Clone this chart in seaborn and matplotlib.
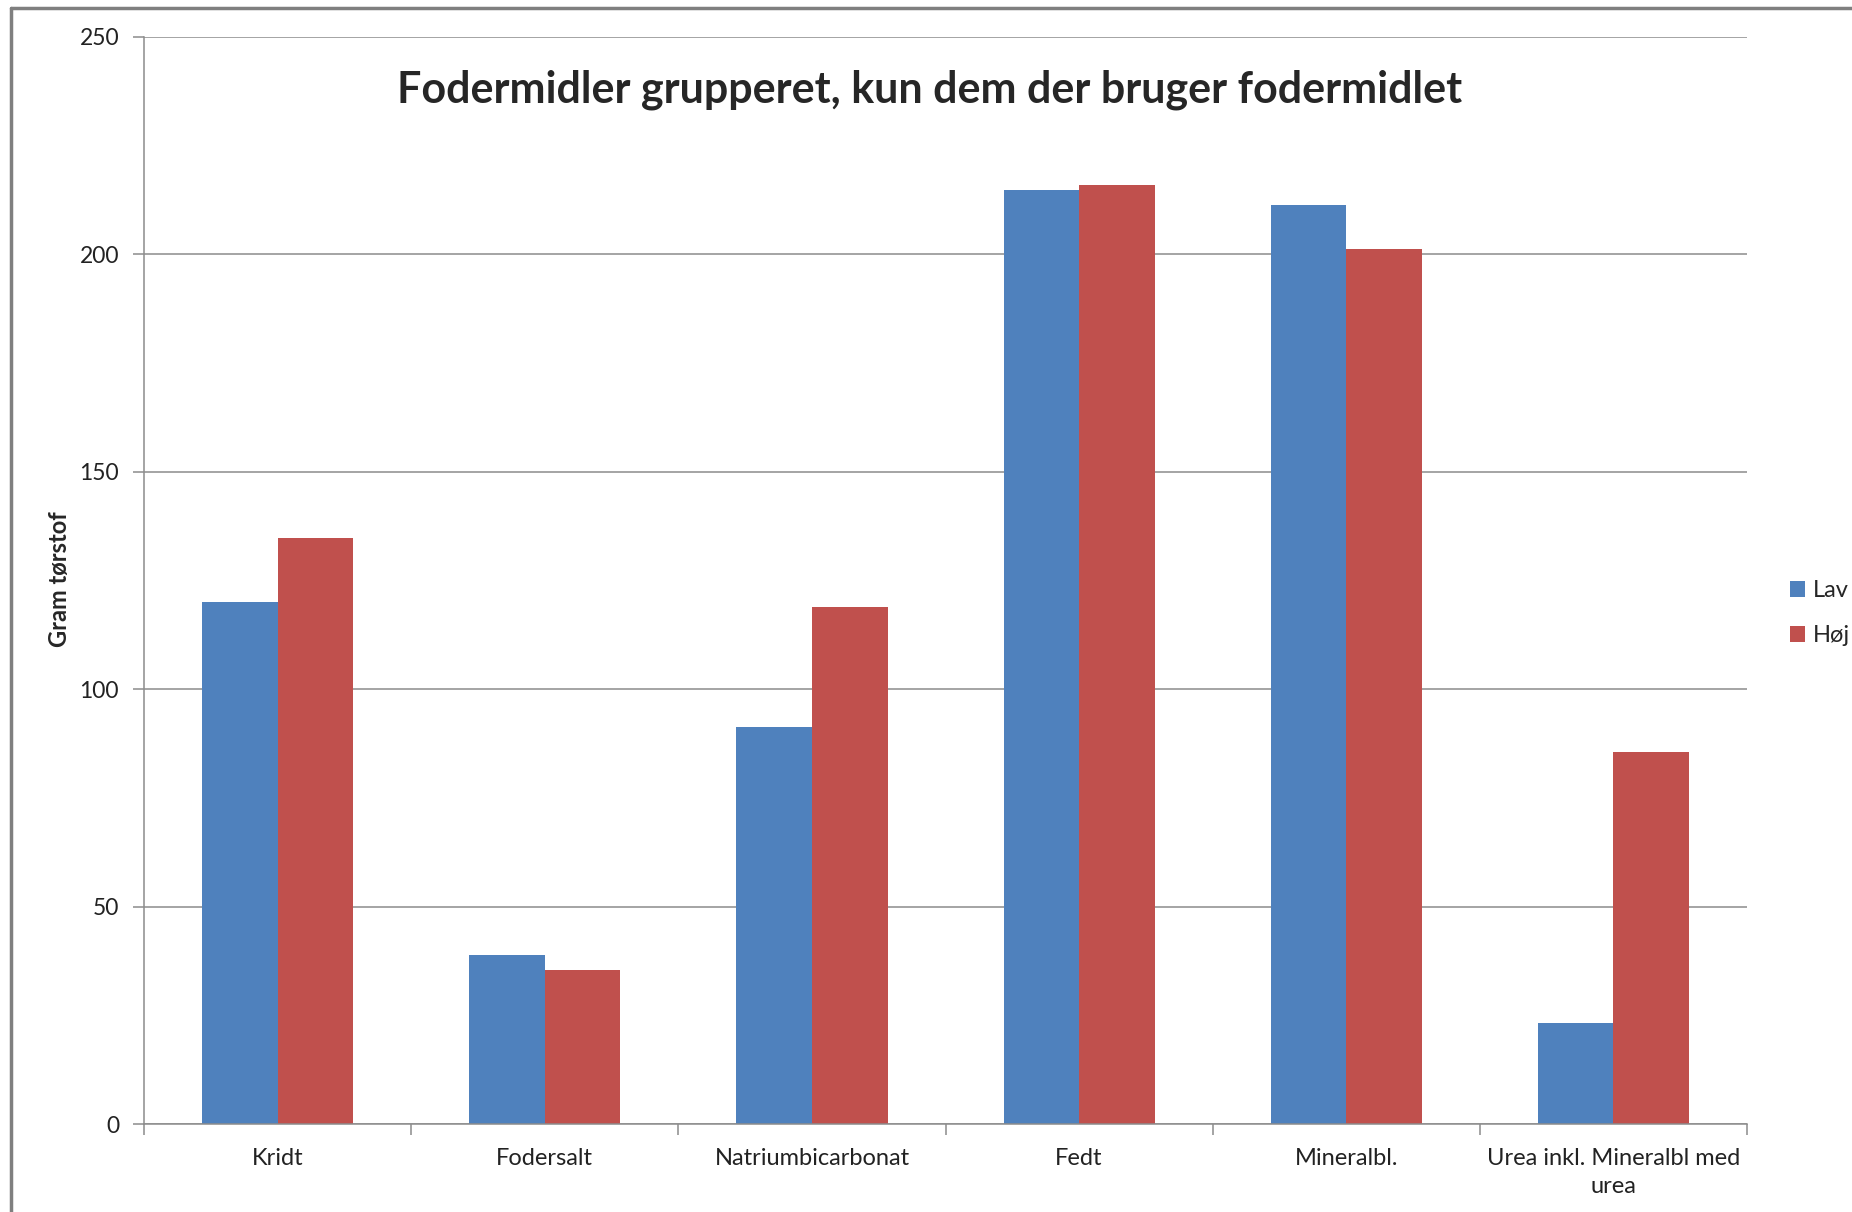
import pandas as pd
import matplotlib.pyplot as plt
import seaborn as sns
from matplotlib.lines import Line2D
from matplotlib.ticker import FixedLocator

categories = ["Kridt", "Fodersalt", "Natriumbicarbonat", "Fedt", "Mineralbl.",
              "Urea inkl. Mineralbl med urea"]
tick_labels = ["Kridt", "Fodersalt", "Natriumbicarbonat", "Fedt", "Mineralbl.",
               "Urea inkl. Mineralbl med\nurea"]
lav = [120, 38.8, 91.2, 214.8, 211.3, 23.3]
hoj = [134.8, 35.4, 119, 215.9, 201.2, 85.6]
groups = ["Lav", "Høj"]
colors = ["#4F81BD", "#C0504D"]

df = pd.DataFrame({
    "kategori": categories * 2,
    "gram": lav + hoj,
    "gruppe": [groups[0]] * len(lav) + [groups[1]] * len(hoj),
})

sns.set_style("white")
plt.rcParams["font.family"] = ["Lato", "DejaVu Sans"]

fig = plt.figure(figsize=(18.52, 12.12), dpi=100)
ax = fig.add_axes([0.0778, 0.0726, 0.8655, 0.8969])

sns.barplot(data=df, x="kategori", y="gram", hue="gruppe", order=categories,
            hue_order=groups, palette=colors, saturation=1, width=0.566,
            errorbar=None, linewidth=0, ax=ax)

ax.set_ylim(0, 250)
ax.set_xlim(-0.5, len(categories) - 0.5)
ax.set_yticks([0, 50, 100, 150, 200, 250])
ax.yaxis.grid(True, color="#8c8c8c", linewidth=1.1)
ax.set_axisbelow(True)

ax.set_xticks(range(len(categories)))
ax.set_xticklabels(tick_labels, fontsize=17, color="#222222", linespacing=1.45)
ax.xaxis.set_minor_locator(FixedLocator([i - 0.5 for i in range(len(categories) + 1)]))
ax.tick_params(axis="x", which="major", length=0, pad=17)
ax.tick_params(axis="x", which="minor", length=8, width=1.1, color="#8c8c8c",
               direction="out", bottom=True)
ax.tick_params(axis="y", length=8, width=1.1, color="#8c8c8c", direction="out",
               left=True, labelsize=16.5, labelcolor="#222222", pad=10)

for side in ["top", "right"]:
    ax.spines[side].set_visible(False)
for side in ["left", "bottom"]:
    ax.spines[side].set_color("#8c8c8c")
    ax.spines[side].set_linewidth(1.1)

ax.set_xlabel("")
ax.set_ylabel("")
fig.text(0.032, 0.522, "Gram tørstof", rotation=90, fontsize=17,
         fontweight="bold", ha="center", va="center")
fig.text(0.502, 0.926, "Fodermidler grupperet, kun dem der bruger fodermidlet",
         fontsize=31, fontweight="bold", ha="center", va="center")

handles, labels = ax.get_legend_handles_labels()
ax.legend(handles, labels, loc="center left", bbox_to_anchor=(0.9665, 0.494),
          bbox_transform=fig.transFigure, frameon=False, fontsize=17,
          handlelength=0.65, handleheight=0.65, handletextpad=0.3,
          labelspacing=1.0, borderaxespad=0, borderpad=0)

# chart area border (top and left visible in the original)
fig.add_artist(Line2D([0.0059, 0.0059], [0, 0.9934], color="#7f7f7f", linewidth=2.5,
                      transform=fig.transFigure))
fig.add_artist(Line2D([0.0059, 1], [0.9934, 0.9934], color="#7f7f7f", linewidth=2.5,
                      transform=fig.transFigure))

plt.savefig("out.png", dpi=100)
